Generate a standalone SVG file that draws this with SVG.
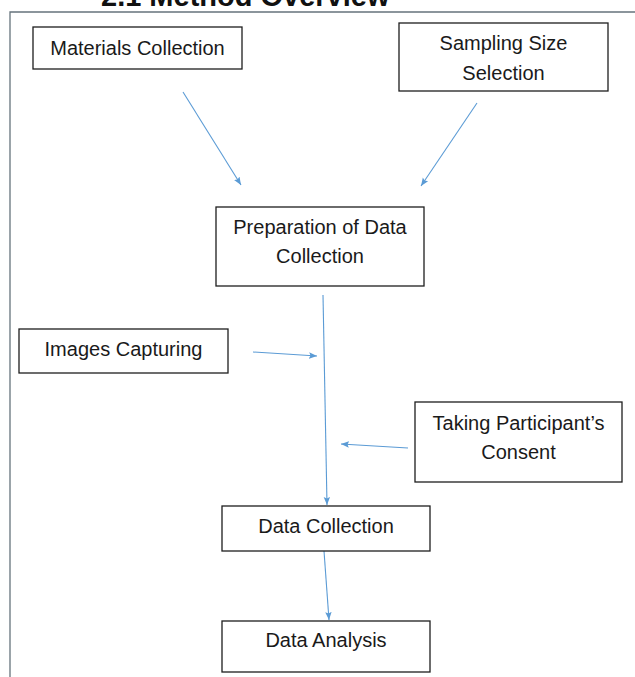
<svg xmlns="http://www.w3.org/2000/svg" width="635" height="677" viewBox="0 0 635 677">
  <style>
    .box { fill: #ffffff; stroke: #1e1e1e; stroke-width: 1.3; }
    .lbl { font-family: "Liberation Sans", Arial, sans-serif; font-size: 20px; fill: #1a1a1a; text-anchor: middle; }
    .conn { stroke: #5b9bd5; stroke-width: 1.1; fill: none; marker-end: url(#arr); }
    .frame { stroke: #66737c; stroke-width: 1.3; fill: none; }
    .title { font-family: "Liberation Sans", Arial, sans-serif; font-size: 29px; font-weight: bold; fill: #111; }
  </style>
  <defs>
    <marker id="arr" markerUnits="userSpaceOnUse" markerWidth="10" markerHeight="8" refX="8" refY="4" orient="auto">
      <path d="M0,0.8 L8,4 L0,7.2 L1.5,4 Z" fill="#5b9bd5"/>
    </marker>
  </defs>
  <rect width="635" height="677" fill="#ffffff"/>

  <text class="title" x="101" y="6">2.1 Method Overview</text>
  <path class="frame" d="M10,677 L10,12 L635,12"/>

  <g id="connectors">
    <line class="conn" x1="183" y1="92" x2="241" y2="185"/>
    <line class="conn" x1="477" y1="103" x2="421" y2="186"/>
    <line class="conn" x1="323" y1="295" x2="327" y2="505"/>
    <line class="conn" x1="253" y1="352" x2="317" y2="356"/>
    <line class="conn" x1="408" y1="448" x2="341" y2="444"/>
    <line class="conn" x1="324" y1="551" x2="329" y2="620"/>
  </g>

  <g id="materials-collection">
    <rect class="box" x="33" y="27" width="209" height="42"/>
    <text class="lbl" x="137.5" y="55">Materials Collection</text>
  </g>
  <g id="sampling-size-selection">
    <rect class="box" x="399" y="23" width="209" height="68"/>
    <text class="lbl" x="503.5" y="50">Sampling Size</text>
    <text class="lbl" x="503.5" y="80">Selection</text>
  </g>
  <g id="preparation">
    <rect class="box" x="216" y="207" width="208" height="79"/>
    <text class="lbl" x="320" y="234">Preparation of Data</text>
    <text class="lbl" x="320" y="263">Collection</text>
  </g>
  <g id="images-capturing">
    <rect class="box" x="19" y="329" width="209" height="44"/>
    <text class="lbl" x="123.5" y="356">Images Capturing</text>
  </g>
  <g id="participant-consent">
    <rect class="box" x="415" y="402" width="207" height="80"/>
    <text class="lbl" x="518.5" y="430">Taking Participant’s</text>
    <text class="lbl" x="518.5" y="459">Consent</text>
  </g>
  <g id="data-collection">
    <rect class="box" x="222" y="506" width="208" height="45"/>
    <text class="lbl" x="326" y="533">Data Collection</text>
  </g>
  <g id="data-analysis">
    <rect class="box" x="222" y="621" width="208" height="51"/>
    <text class="lbl" x="326" y="647">Data Analysis</text>
  </g>
</svg>
